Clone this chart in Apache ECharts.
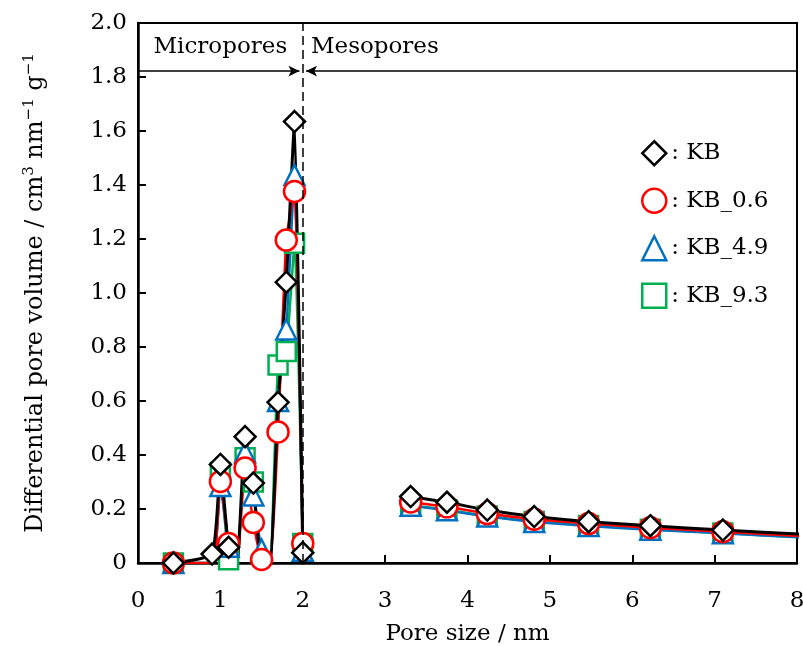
<!DOCTYPE html>
<html>
<head>
<meta charset="utf-8">
<script src="https://cdn.jsdelivr.net/npm/echarts@6/dist/echarts.min.js"></script>
<style>
  html, body { margin: 0; padding: 0; background: #fff; }
  #chart { width: 803px; height: 646px; }
</style>
</head>
<body>
<div id="chart"></div>
<script>
// pore size grid (nm)
var microX = [0.43, 0.9, 1.0, 1.1, 1.2, 1.3, 1.4, 1.5, 1.6, 1.7, 1.8, 1.9, 2.0];
var mesoX = [3.31, 3.75, 4.24, 4.81, 5.47, 6.22, 7.10, 8.10];

// differential pore volume, cm3 nm-1 g-1
var kbMicro    = [0, 0.033, 0.365, 0.058, 0, 0.468, 0.296, 0, 0, 0.595, 1.040, 1.635, 0.038];
var kb06Micro  = [0, 0, 0.302, 0.072, 0, 0.352, 0.150, 0.013, 0, 0.485, 1.196, 1.376, 0.072];
var kb49Micro  = [0, 0, 0.285, 0.060, 0, 0.410, 0.250, 0.050, 0, 0.600, 0.865, 1.437, 0.045];
var kb93Micro  = [0, 0, 0.335, 0.012, 0, 0.390, 0.300, 0, 0, 0.733, 0.783, 1.184, 0.072];

var kbMeso   = [0.246, 0.225, 0.196, 0.172, 0.153, 0.138, 0.122, 0.106];
var kb06Meso = [0.226, 0.208, 0.183, 0.162, 0.146, 0.131, 0.116, 0.099];
var kb49Meso = [0.212, 0.195, 0.172, 0.152, 0.137, 0.123, 0.110, 0.094];
var kb93Meso = [0.214, 0.197, 0.174, 0.154, 0.139, 0.125, 0.111, 0.095];

var yTicks = [0, 0.2, 0.4, 0.6, 0.8, 1.0, 1.2, 1.4, 1.6, 1.8, 2.0];

var FONT = 'DejaVu Serif';
var FS = 23;
var arrowY = 1.822;

function buildData(micro, meso) {
    var out = [];
    micro.forEach(function (v, i) {
        var item = {value: [microX[i], v]};
        // zero points inside the micropore range carry no marker
        if (v === 0 && i > 0) item.symbol = 'none';
        out.push(item);
    });
    out.push({value: [2.6, '-']});
    meso.forEach(function (v, i) {
        out.push({value: [mesoX[i], v]});
    });
    return out;
}

function makeSeries(name, color, symbol, size, width, micro, meso) {
    return {
        name: name,
        type: 'line',
        data: buildData(micro, meso),
        smooth: 0.15,
        symbol: symbol,
        symbolSize: size,
        showAllSymbol: true,
        lineStyle: {color: color, width: width},
        itemStyle: {color: '#fff', borderColor: color, borderWidth: 2.5},
        emphasis: {disabled: true},
        animation: false
    };
}

var chart = echarts.init(document.getElementById('chart'));

var kbSeries = makeSeries('KB', '#000000', 'diamond', 21, 3, kbMicro, kbMeso);
kbSeries.markLine = {
    silent: true,
    animation: false,
    symbol: ['none', 'arrow'],
    symbolSize: [8, 11],
    label: {show: false},
    lineStyle: {color: '#000', type: 'solid', width: 1.5},
    data: [
        [{coord: [0, arrowY]}, {coord: [1.96, arrowY]}],
        [{coord: [8, arrowY]}, {coord: [2.04, arrowY]}],
        [{coord: [2, 0], symbol: 'none', lineStyle: {type: [9, 5], width: 1.5}},
         {coord: [2, 2], symbol: 'none'}]
    ]
};
kbSeries.markPoint = {
    silent: true,
    animation: false,
    symbol: 'circle',
    symbolSize: 0,
    label: {show: true, position: 'inside', color: '#000', fontFamily: FONT, fontSize: FS},
    data: [
        {coord: [1.0, 1.91], label: {formatter: 'Micropores'}},
        {coord: [2.1, 1.91], label: {formatter: 'Mesopores', align: 'left'}}
    ]
};

var option = {
    backgroundColor: '#fff',
    textStyle: {fontFamily: FONT},
    grid: {
        left: 138,
        right: 6,
        top: 23,
        bottom: 83,
        outerBoundsMode: 'none',
        show: true,
        borderColor: '#000',
        borderWidth: 2
    },
    legend: {
        orient: 'vertical',
        left: 636,
        top: 135,
        itemWidth: 24,
        itemHeight: 24,
        itemGap: 21,
        selectedMode: false,
        formatter: function (n) { return ': ' + n; },
        textStyle: {fontFamily: FONT, fontSize: FS, color: '#000'},
        data: [
            {name: 'KB', icon: 'diamond', itemStyle: {color: '#fff', borderColor: '#000', borderWidth: 2.5}},
            {name: 'KB_0.6', icon: 'circle', itemStyle: {color: '#fff', borderColor: '#ff0000', borderWidth: 2.5}},
            {name: 'KB_4.9', icon: 'triangle', itemStyle: {color: '#fff', borderColor: '#0070c0', borderWidth: 2.5}},
            {name: 'KB_9.3', icon: 'rect', itemStyle: {color: '#fff', borderColor: '#00b050', borderWidth: 2.5}}
        ]
    },
    xAxis: {
        type: 'value',
        min: 0,
        max: 8,
        interval: 1,
        name: 'Pore size / nm',
        nameLocation: 'middle',
        nameGap: 60,
        nameTextStyle: {fontFamily: FONT, fontSize: FS, color: '#000'},
        axisLine: {lineStyle: {color: '#000', width: 2.5}},
        axisTick: {inside: true, length: 8, lineStyle: {color: '#000', width: 2}},
        axisLabel: {margin: 27, fontFamily: FONT, fontSize: FS, color: '#000'},
        splitLine: {show: false}
    },
    yAxis: {
        type: 'value',
        min: 0,
        max: 2,
        interval: 0.2,
        name: 'Differential pore volume / cm{sup|3} nm{sup|\u22121} g{sup|\u22121}',
        nameLocation: 'middle',
        nameGap: 88,
        nameTextStyle: {
            fontFamily: FONT, fontSize: 24, color: '#000', lineHeight: 28,
            rich: {
                sup: {fontFamily: FONT, fontSize: 15, color: '#000', verticalAlign: 'top', lineHeight: 15}
            }
        },
        axisLine: {lineStyle: {color: '#000', width: 2.5}},
        axisTick: {inside: true, length: 8, lineStyle: {color: '#000', width: 2}},
        axisLabel: {
            margin: 11,
            fontFamily: FONT,
            fontSize: FS,
            color: '#000',
            formatter: function (v) {
                var t = yTicks.filter(function (k) { return Math.abs(k - v) < 1e-6; })[0];
                if (t === undefined) return '';
                return t === 0 ? '0' : t.toFixed(1);
            }
        },
        splitLine: {show: false}
    },
    series: [
        makeSeries('KB_9.3', '#00b050', 'rect', 19, 2.5, kb93Micro, kb93Meso),
        makeSeries('KB_4.9', '#0070c0', 'triangle', 20, 2.5, kb49Micro, kb49Meso),
        makeSeries('KB_0.6', '#ff0000', 'circle', 21, 2.5, kb06Micro, kb06Meso),
        kbSeries
    ]
};
chart.setOption(option);
</script>
</body>
</html>
